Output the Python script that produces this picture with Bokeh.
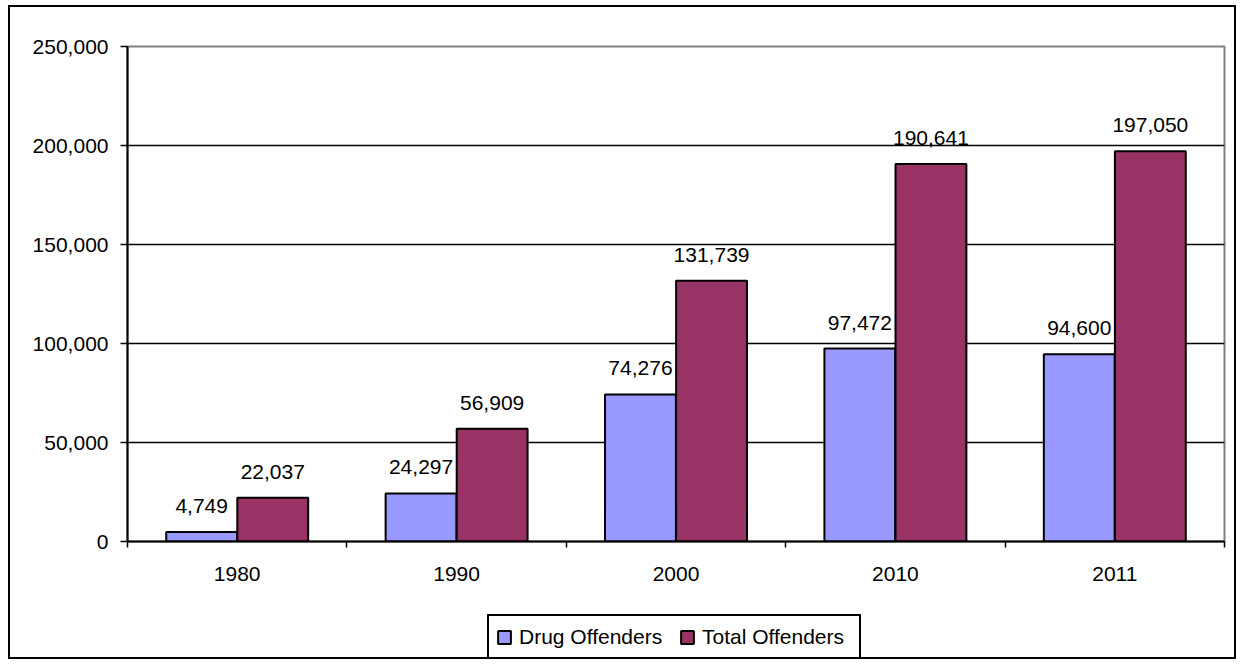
import numpy as np
from bokeh.plotting import figure
from bokeh.layouts import column
from bokeh.models import (ColumnDataSource, Range1d, FixedTicker, NumeralTickFormatter,
                          LabelSet, Legend, LegendItem)
from bokeh.embed import file_html
from bokeh.resources import INLINE
from bokeh.core.properties import value

# ---- data ----
years = ["1980", "1990", "2000", "2010", "2011"]
drug_offenders = [4749, 24297, 74276, 97472, 94600]
total_offenders = [22037, 56909, 131739, 190641, 197050]
series_names = ["Drug Offenders", "Total Offenders"]
y_ticks = [0, 50000, 100000, 150000, 200000, 250000]

FONT = "Liberation Sans"
FS = "21px"
DRUG_COLOR = "#9999FF"
TOTAL_COLOR = "#993366"

idx = np.arange(len(years)) + 0.5
bar_w = 0.323
off = 0.162

src = ColumnDataSource(dict(
    xd=idx - off, xt=idx + off,
    drug=drug_offenders, total=total_offenders,
    drug_lbl=[f"{v:,}" for v in drug_offenders],
    total_lbl=[f"{v:,}" for v in total_offenders],
))

# ---------------- main chart ----------------
p = figure(width=1228, height=593, output_backend="svg", toolbar_location=None,
           x_range=Range1d(0, len(years)), y_range=Range1d(0, y_ticks[-1]),
           min_border_left=117, min_border_right=14, min_border_top=39,
           min_border_bottom=59)
p.styles = {"border-top": "2px solid black", "border-left": "2px solid black",
            "border-right": "2px solid black"}
p.background_fill_color = "white"
p.border_fill_color = "white"
p.outline_line_color = "#808080"
p.outline_line_width = 2

r1 = p.vbar(x="xd", top="drug", width=bar_w, source=src, fill_color=DRUG_COLOR,
            line_color="black", line_width=2)
r2 = p.vbar(x="xt", top="total", width=bar_w, source=src, fill_color=TOTAL_COLOR,
            line_color="black", line_width=2)

for xcol, ycol, tcol in (("xd", "drug", "drug_lbl"), ("xt", "total", "total_lbl")):
    p.add_layout(LabelSet(x=xcol, y=ycol, text=tcol, source=src,
                          text_align="center", text_baseline="alphabetic",
                          y_offset=19, text_font=value(FONT),
                          text_font_size=value(FS), text_color="black"))

# grid
p.xgrid.grid_line_color = None
p.ygrid.ticker = FixedTicker(ticks=y_ticks)
p.ygrid.grid_line_color = "black"
p.ygrid.grid_line_width = 1.5

# x axis: labels at category centres, ticks at category boundaries
xa = p.xaxis[0]
xa.ticker = FixedTicker(ticks=list(idx), minor_ticks=list(range(len(years) + 1)))
xa.major_label_overrides = {float(x): y for x, y in zip(idx, years)}
xa.major_tick_line_color = None
xa.major_tick_out = 0
xa.major_tick_in = 0
xa.minor_tick_line_color = "black"
xa.minor_tick_line_width = 1.5
xa.minor_tick_out = 6
xa.minor_tick_in = 0
xa.axis_line_color = "black"
xa.axis_line_width = 2
xa.major_label_standoff = 19
xa.major_label_text_font = FONT
xa.major_label_text_font_size = FS
xa.major_label_text_color = "black"

# y axis
ya = p.yaxis[0]
ya.ticker = FixedTicker(ticks=y_ticks)
ya.formatter = NumeralTickFormatter(format="0,0")
ya.major_tick_line_color = "black"
ya.major_tick_line_width = 1.5
ya.major_tick_out = 7
ya.major_tick_in = 0
ya.minor_tick_line_color = None
ya.axis_line_color = "black"
ya.axis_line_width = 2
ya.major_label_standoff = 12
ya.major_label_text_font = FONT
ya.major_label_text_font_size = FS
ya.major_label_text_color = "black"

# ---------------- legend strip ----------------
q = figure(width=1228, height=61, output_backend="svg", toolbar_location=None,
           x_range=Range1d(0, len(years)), y_range=Range1d(0, y_ticks[-1]),
           x_axis_location=None, y_axis_location=None,
           min_border=0, min_border_left=0, min_border_right=0,
           min_border_top=0, min_border_bottom=0)
q.styles = {"border-bottom": "2px solid black", "border-left": "2px solid black",
            "border-right": "2px solid black"}
q.grid.visible = False
q.outline_line_color = None
q.background_fill_color = "white"
q.border_fill_color = "white"

# hidden copies of the two series: they only provide the legend swatches
lr1 = q.vbar(x="xd", top="drug", width=bar_w, source=src, fill_color=DRUG_COLOR,
             line_color="black", line_width=2, visible=False)
lr2 = q.vbar(x="xt", top="total", width=bar_w, source=src, fill_color=TOTAL_COLOR,
             line_color="black", line_width=2, visible=False)

legend = Legend(items=[LegendItem(label=series_names[0], renderers=[lr1]),
                       LegendItem(label=series_names[1], renderers=[lr2])],
                orientation="horizontal", location=(360, 0),
                border_line_color="black", border_line_width=2, border_line_alpha=1,
                label_text_font=FONT, label_text_font_size=FS,
                label_text_color="black",
                glyph_width=16, glyph_height=16, label_standoff=7,
                label_width=150, label_height=27,
                spacing=10, padding=7, margin=0,
                inactive_fill_alpha=0,
                background_fill_color="white", background_fill_alpha=1)
q.add_layout(legend)

layout = column(p, q, spacing=0)
layout.styles = {"margin-left": "8px", "margin-top": "5px"}

open("out.html", "w").write(file_html(layout, INLINE))
